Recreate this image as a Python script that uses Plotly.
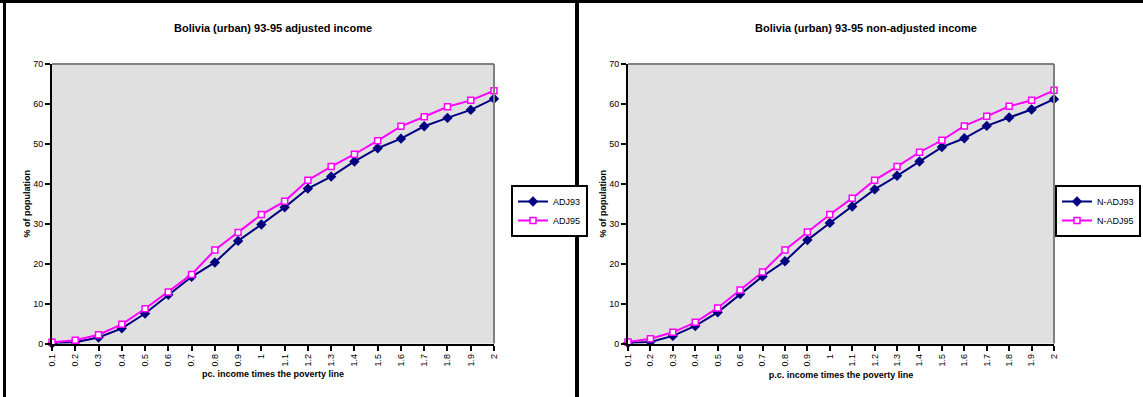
import plotly.graph_objects as go

# Income thresholds (multiples of the poverty line)
thresholds = ["0.1", "0.2", "0.3", "0.4", "0.5", "0.6", "0.7", "0.8", "0.9", "1",
              "1.1", "1.2", "1.3", "1.4", "1.5", "1.6", "1.7", "1.8", "1.9", "2"]

# Cumulative % of population below each threshold - adjusted income
adj93 = [0.0, 0.3, 1.5, 3.8, 7.5, 12.2, 16.7, 20.3, 25.7, 29.8,
         34.1, 38.8, 41.8, 45.6, 48.9, 51.3, 54.4, 56.5, 58.5, 61.3]
adj95 = [0.3, 0.8, 2.2, 4.8, 8.7, 12.9, 17.3, 23.4, 27.8, 32.3,
         35.6, 40.9, 44.3, 47.4, 50.8, 54.4, 56.8, 59.3, 60.9, 63.3]

# Cumulative % of population below each threshold - non-adjusted income
nadj93 = [0.1, 0.4, 1.9, 4.4, 7.8, 12.4, 16.8, 20.6, 25.9, 30.2,
          34.3, 38.6, 42.0, 45.6, 49.2, 51.4, 54.5, 56.6, 58.6, 61.2]
nadj95 = [0.4, 1.2, 2.8, 5.3, 8.9, 13.4, 17.9, 23.4, 27.9, 32.3,
          36.4, 40.9, 44.3, 47.9, 50.9, 54.5, 56.9, 59.4, 60.9, 63.4]

y_ticks = [0, 10, 20, 30, 40, 50, 60, 70]

W, H = 1143, 397
FONT = "Liberation Sans, Arial, sans-serif"
NAVY = "#000080"
MAGENTA = "#FF00FF"


def px(x):
    return x / W


def py(y):
    return 1 - y / H


fig = go.Figure()


def add_pair(name93, vals93, name95, vals95, xa, ya, legend):
    fig.add_trace(go.Scatter(
        x=thresholds, y=vals93, name=name93, mode="lines+markers",
        line=dict(color=NAVY, width=2),
        marker=dict(symbol="diamond", size=8, color=NAVY),
        xaxis=xa, yaxis=ya, legend=legend, cliponaxis=False))
    fig.add_trace(go.Scatter(
        x=thresholds, y=vals95, name=name95, mode="lines+markers",
        line=dict(color=MAGENTA, width=2),
        marker=dict(symbol="square", size=6, color="white",
                    line=dict(color=MAGENTA, width=1.5)),
        xaxis=xa, yaxis=ya, legend=legend, cliponaxis=False))


add_pair("ADJ93", adj93, "ADJ95", adj95, "x", "y", "legend")
add_pair("N-ADJ93", nadj93, "N-ADJ95", nadj95, "x2", "y2", "legend2")

y_dom = [py(343.5), py(64)]
axis_common = dict(
    showgrid=False, zeroline=False, showline=True, linecolor="black",
    linewidth=2, ticks="outside", ticklen=5, tickwidth=2, tickcolor="black",
    automargin=False,
    tickfont=dict(family=FONT, size=9, color="black"),
)

fig.update_layout(
    width=W, height=H,
    margin=dict(l=0, r=0, t=0, b=0, autoexpand=False),
    paper_bgcolor="white",
    plot_bgcolor="#E0E0E0",
    showlegend=True,
    font=dict(family=FONT, color="black"),
    xaxis=dict(domain=[px(52), px(494)], anchor="y", type="category",
               range=[0, len(thresholds) - 1], tickangle=-90,
               title=dict(text="<b>pc. income times the poverty line</b>",
                          font=dict(size=9), standoff=5),
               **axis_common),
    yaxis=dict(domain=y_dom, anchor="x", range=[0, 70], tickvals=y_ticks,
               title=dict(text="<b>% of population</b>",
                          font=dict(size=9), standoff=1),
               **axis_common),
    xaxis2=dict(domain=[px(628), px(1054)], anchor="y2", type="category",
                range=[0, len(thresholds) - 1], tickangle=-90,
                title=dict(text="<b>p.c. income times the poverty line</b>",
                           font=dict(size=9), standoff=6),
                **axis_common),
    yaxis2=dict(domain=y_dom, anchor="x2", range=[0, 70], tickvals=y_ticks,
                title=dict(text="<b>% of population</b>",
                           font=dict(size=9), standoff=1),
                **axis_common),
    legend=dict(x=px(511), y=py(185), xanchor="left", yanchor="top",
                bordercolor="black", borderwidth=2, bgcolor="white",
                font=dict(family=FONT, size=9), itemwidth=30,
                tracegroupgap=0),
    legend2=dict(x=px(1141), y=py(185), xanchor="right", yanchor="top",
                 bordercolor="black", borderwidth=2, bgcolor="white",
                 font=dict(family=FONT, size=9), itemwidth=30,
                 tracegroupgap=0),
)

# Chart titles
for text, xc in [("Bolivia (urban) 93-95 adjusted income", 273),
                 ("Bolivia (urban) 93-95 non-adjusted income", 866)]:
    fig.add_annotation(x=px(xc), y=py(28), xref="paper", yref="paper",
                       text=f"<b>{text}</b>", showarrow=False,
                       xanchor="center", yanchor="middle",
                       font=dict(family=FONT, size=11, color="black"))

# Gray top/right frame of each plot area
for xr, yr in [("x domain", "y domain"), ("x2 domain", "y2 domain")]:
    fig.add_shape(type="line", xref=xr, yref=yr, x0=0, x1=1, y0=1, y1=1,
                  line=dict(color="#808080", width=2))
    fig.add_shape(type="line", xref=xr, yref=yr, x0=1, x1=1, y0=0, y1=1,
                  line=dict(color="#808080", width=2))

# Black frame around the two chart panels
frame = dict(color="black", width=3)
fig.add_shape(type="line", xref="paper", yref="paper",
              x0=0, x1=1, y0=py(1.5), y1=py(1.5), line=frame)
fig.add_shape(type="line", xref="paper", yref="paper",
              x0=px(4.5), x1=px(4.5), y0=0, y1=py(1.5), line=frame)
fig.add_shape(type="line", xref="paper", yref="paper",
              x0=px(577), x1=px(577), y0=0, y1=py(1.5),
              line=dict(color="black", width=4))

fig.write_html("out.html")
